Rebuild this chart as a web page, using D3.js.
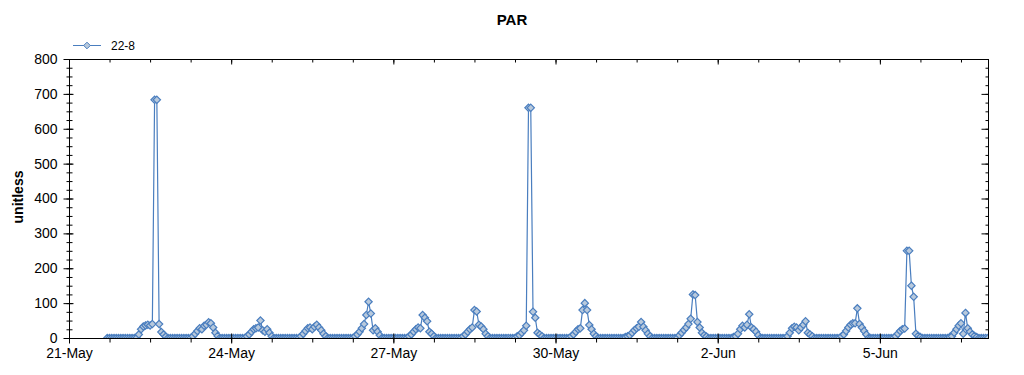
<!DOCTYPE html>
<html>
<head>
<meta charset="utf-8">
<script src="https://cdn.jsdelivr.net/npm/d3@7"></script>
<style>
    body { margin: 0; background: #ffffff; }
    svg text { font-family: "Liberation Sans", Arial, sans-serif; fill: #000000; }
</style>
</head>
<body>
<div id="chart"></div>
<script>
// Series name and axis text
let seriesName = "22-8";
let chartTitle = "PAR";
let yTitle = "unitless";

// First reading, then one reading per hour
let startTime = new Date(2023, 4, 21, 17);
let endTime = new Date(2023, 5, 7, 0);

// PAR readings, one row per day (21-May starts at 17:00)
let parValues = [
    0, 0, 0, 0, 0, 0, 0,
    0, 0, 0, 0, 0, 0, 0, 10, 25, 33, 36, 38, 36, 40, 683, 683, 40, 17, 10, 4, 0, 0, 0, 0,
    0, 0, 0, 0, 0, 0, 0, 5, 12, 20, 28, 25, 35, 38, 45, 42, 30, 15, 6, 0, 0, 0, 0, 0,
    0, 0, 0, 0, 0, 0, 0, 5, 10, 18, 25, 28, 30, 50, 22, 18, 25, 15, 5, 0, 0, 0, 0, 0,
    0, 0, 0, 0, 0, 0, 0, 5, 12, 20, 28, 30, 25, 32, 38, 30, 22, 12, 5, 0, 0, 0, 0, 0,
    0, 0, 0, 0, 0, 0, 0, 5, 10, 18, 28, 40, 66, 104, 70, 22, 28, 18, 8, 0, 0, 0, 0, 0,
    0, 0, 0, 0, 0, 0, 0, 5, 10, 18, 25, 30, 28, 66, 58, 48, 18, 12, 5, 0, 0, 0, 0, 0,
    0, 0, 0, 0, 0, 0, 0, 5, 10, 18, 25, 30, 80, 76, 38, 33, 25, 12, 5, 0, 0, 0, 0, 0,
    0, 0, 0, 0, 0, 0, 0, 5, 8, 15, 22, 35, 660, 660, 75, 58, 15, 10, 5, 0, 0, 0, 0, 0,
    0, 0, 0, 0, 0, 0, 0, 5, 10, 18, 25, 28, 80, 100, 80, 37, 25, 12, 5, 0, 0, 0, 0, 0,
    0, 0, 0, 0, 0, 0, 0, 3, 5, 8, 15, 22, 28, 32, 46, 32, 22, 12, 5, 0, 0, 0, 0, 0,
    0, 0, 0, 0, 0, 0, 0, 8, 15, 23, 30, 40, 55, 125, 123, 46, 30, 15, 8, 4, 0, 0, 0, 0,
    0, 0, 0, 0, 0, 0, 0, 3, 5, 12, 25, 35, 30, 38, 68, 30, 25, 18, 8, 0, 0, 0, 0, 0,
    0, 0, 0, 0, 0, 0, 0, 5, 15, 28, 32, 30, 22, 30, 38, 48, 15, 10, 5, 0, 0, 0, 0, 0,
    0, 0, 0, 0, 0, 0, 0, 5, 10, 20, 30, 38, 42, 42, 85, 40, 30, 20, 10, 0, 0, 0, 0, 0,
    0, 0, 0, 0, 0, 0, 0, 5, 12, 20, 25, 27, 250, 250, 150, 118, 12, 6, 3, 0, 0, 0, 0, 0,
    0, 0, 0, 0, 0, 0, 0, 3, 5, 15, 25, 35, 42, 12, 72, 28, 18, 10, 6, 3, 0, 0, 0, 0,
    0
];

// Axis ticks
let yMajorTicks = [0, 100, 200, 300, 400, 500, 600, 700, 800];
let xMajorTicks = [
    new Date(2023, 4, 21), new Date(2023, 4, 24), new Date(2023, 4, 27),
    new Date(2023, 4, 30), new Date(2023, 5, 2), new Date(2023, 5, 5)
];

let width = 1024;
let height = 375;
let margin = { top: 59, right: 36, bottom: 37, left: 69 };
let lineColor = "#4a7ebf";
let markerFill = "#b8c9dc";
let markerSize = 34;

let data = parValues.map((v, i) => ({ time: d3.timeHour.offset(startTime, i), value: v }));

let svg = d3
    .select("#chart")
    .append("svg")
    .attr("width", width)
    .attr("height", height);

let x = d3.scaleTime()
    .domain([new Date(2023, 4, 21), endTime])
    .range([margin.left, width - margin.right]);

let y = d3.scaleLinear()
    .domain([0, 800])
    .range([height - margin.bottom, margin.top]);

let yMinorTicks = d3.range(0, 801, 25);
let xMinorTicks = d3.range(0, 17 * 24 + 1, 18).map(h => d3.timeHour.offset(new Date(2023, 4, 21), h));

// Title
svg.append("text")
    .attr("x", 512)
    .attr("y", 25)
    .attr("text-anchor", "middle")
    .style("font-size", "15px")
    .style("font-weight", "bold")
    .text(chartTitle);

// Y axis title
svg.append("text")
    .attr("transform", "translate(23,197) rotate(-90)")
    .attr("text-anchor", "middle")
    .style("font-size", "14px")
    .style("font-weight", "bold")
    .text(yTitle);

// Legend
let legend = svg.append("g").attr("transform", "translate(73,45)");
legend.append("line")
    .attr("x1", 0).attr("x2", 28)
    .attr("y1", 0.5).attr("y2", 0.5)
    .attr("stroke", lineColor);
legend.append("path")
    .attr("d", d3.symbol().type(d3.symbolDiamond2).size(28))
    .attr("transform", "translate(14,0.5)")
    .attr("fill", markerFill)
    .attr("stroke", lineColor);
legend.append("text")
    .attr("x", 38)
    .attr("y", 5)
    .style("font-size", "12px")
    .text(seriesName);

// Clip for the plot area
svg.append("clipPath")
    .attr("id", "plot-clip")
    .append("rect")
    .attr("x", margin.left)
    .attr("y", margin.top)
    .attr("width", width - margin.left - margin.right)
    .attr("height", height - margin.top - margin.bottom);

let plot = svg.append("g").attr("clip-path", "url(#plot-clip)");

// Series line
let line = d3.line()
    .x(d => x(d.time))
    .y(d => y(d.value));

plot.append("path")
    .datum(data)
    .attr("d", line)
    .attr("fill", "none")
    .attr("stroke", lineColor)
    .attr("stroke-width", 1.2);

// Diamond markers
plot.selectAll(".marker")
    .data(data)
    .join("path")
    .attr("class", "marker")
    .attr("d", d3.symbol().type(d3.symbolDiamond2).size(markerSize))
    .attr("transform", d => `translate(${x(d.time)},${y(d.value)})`)
    .attr("fill", markerFill)
    .attr("stroke", lineColor)
    .attr("stroke-width", 1.2);

// Plot border
svg.append("rect")
    .attr("x", margin.left + 0.5)
    .attr("y", margin.top + 0.5)
    .attr("width", width - margin.left - margin.right)
    .attr("height", height - margin.top - margin.bottom)
    .attr("fill", "none")
    .attr("stroke", "#000000");

function addAxis(axis, tx, ty) {
    let g = svg.append("g")
        .attr("transform", `translate(${tx},${ty})`)
        .call(axis);
    g.select(".domain").remove();
    g.selectAll("line").attr("stroke", "#000000");
    return g;
}

let bottomY = height - margin.bottom + 0.5;
let rightX = width - margin.right + 0.5;

// Left axis: labels with major ticks, minor ticks cross the axis
addAxis(d3.axisLeft(y).tickValues(yMajorTicks).tickSize(6).tickPadding(6), margin.left + 0.5, 0)
    .selectAll("text").style("font-size", "14px");
addAxis(d3.axisLeft(y).tickValues(yMajorTicks).tickSize(-4).tickFormat(""), margin.left + 0.5, 0);
addAxis(d3.axisLeft(y).tickValues(yMinorTicks).tickSize(3).tickFormat(""), margin.left + 0.5, 0);
addAxis(d3.axisLeft(y).tickValues(yMinorTicks).tickSize(-3).tickFormat(""), margin.left + 0.5, 0);

// Right axis: inward ticks only
addAxis(d3.axisRight(y).tickValues(yMajorTicks).tickSize(-7).tickFormat(""), rightX, 0);
addAxis(d3.axisRight(y).tickValues(yMinorTicks).tickSize(-3).tickFormat(""), rightX, 0);

// Bottom axis
addAxis(d3.axisBottom(x).tickValues(xMajorTicks).tickSize(5).tickPadding(5).tickFormat(d3.timeFormat("%-d-%b")), 0, bottomY)
    .selectAll("text").style("font-size", "14px");
addAxis(d3.axisBottom(x).tickValues(xMajorTicks).tickSize(-5).tickFormat(""), 0, bottomY);
addAxis(d3.axisBottom(x).tickValues(xMinorTicks).tickSize(4).tickFormat(""), 0, bottomY);

// Top axis: inward ticks only
addAxis(d3.axisTop(x).tickValues(xMajorTicks).tickSize(-5).tickFormat(""), 0, margin.top + 0.5);
addAxis(d3.axisTop(x).tickValues(xMinorTicks).tickSize(-3).tickFormat(""), 0, margin.top + 0.5);
</script>
</body>
</html>
